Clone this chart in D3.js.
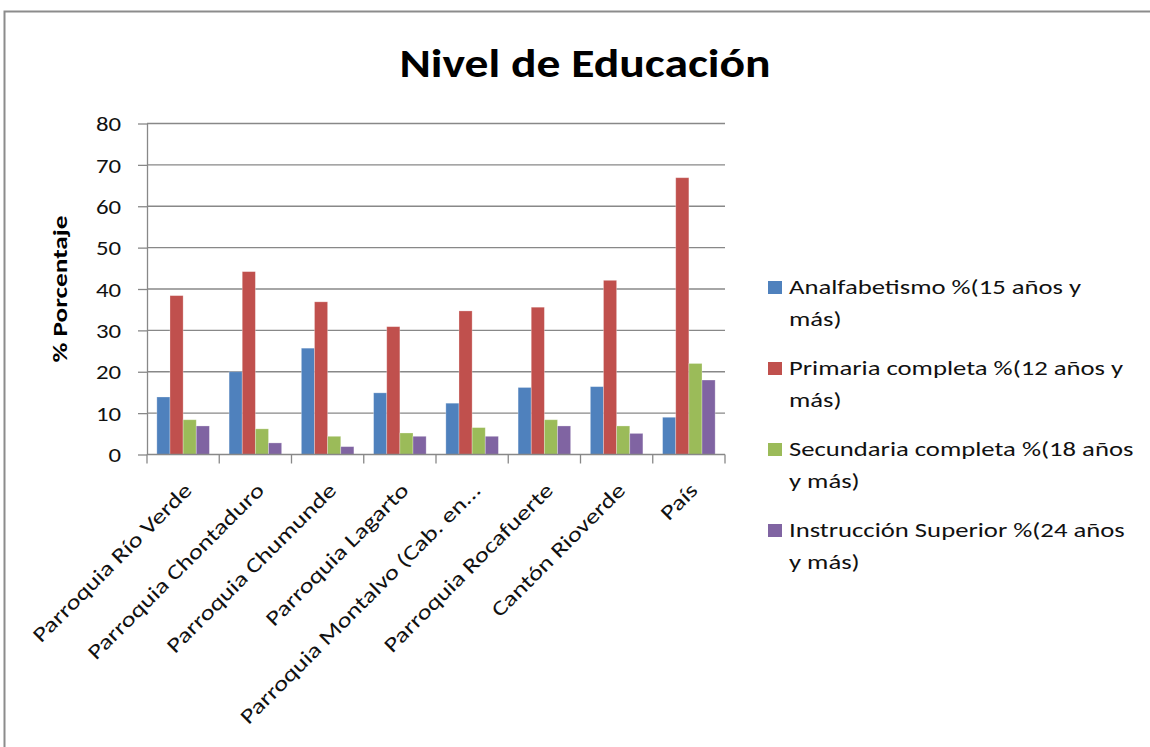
<!doctype html>
<html lang="es">
<head>
<meta charset="utf-8">
<title>Nivel de Educación</title>
<style>
html, body {
	margin: 0;
	padding: 0;
	background: #fff;
}
svg {
	display: block;
	font-family: Calibri, Carlito, Lato, sans-serif;
}
.grid line { stroke: #888; stroke-width: 1.3px; }
.axis path, .axis line { stroke: #888; stroke-width: 1.3px; }
.axis text { fill: #111; }
</style>
</head>
<body>
<div id="chart"></div>
<script src="https://cdnjs.cloudflare.com/ajax/libs/d3/7.8.5/d3.min.js"></script>
<script>
// categories and series
var categories = [
	'Parroquia Río Verde',
	'Parroquia Chontaduro',
	'Parroquia Chumunde',
	'Parroquia Lagarto',
	'Parroquia Montalvo (Cab. en...',
	'Parroquia Rocafuerte',
	'Cantón Rioverde',
	'País'
];
var seriesNames = [
	['Analfabetismo %(15 años y', 'más)'],
	['Primaria completa %(12 años y', 'más)'],
	['Secundaria completa %(18 años', 'y más)'],
	['Instrucción Superior %(24 años', 'y más)']
];
var analfabetismo = [13.9, 20.0, 25.7, 14.9, 12.4, 16.2, 16.4, 9.0];
var primaria = [38.4, 44.2, 36.9, 30.9, 34.7, 35.6, 42.1, 66.9];
var secundaria = [8.4, 6.2, 4.4, 5.2, 6.5, 8.4, 6.9, 22.0];
var superior = [6.9, 2.8, 1.9, 4.4, 4.4, 6.9, 5.1, 18.0];
var yTicks = [0, 10, 20, 30, 40, 50, 60, 70, 80];
var colors = ['#4f81bd', '#c0504d', '#9bbb59', '#8064a2'];

var series = [analfabetismo, primaria, secundaria, superior];

var W = 1150, H = 747;
var plot = { left: 147, right: 725, top: 123.5, bottom: 454.5 };
// the picture's text is wider than Lato at the same height
var SX = 1.27;

var svg = d3.select('#chart').append('svg')
	.attr('width', W)
	.attr('height', H);

// chart frame
svg.append('rect')
	.attr('x', 4.5).attr('y', 11.5)
	.attr('width', W + 20).attr('height', H + 20)
	.attr('fill', '#fff')
	.attr('stroke', '#8c8c8c')
	.attr('stroke-width', 2);

svg.append('text')
	.attr('transform', 'translate(585,77) scale(1.19,1)')
	.attr('text-anchor', 'middle')
	.attr('font-size', 40)
	.attr('font-weight', 'bold')
	.attr('fill', '#000')
	.text('Nivel de Educación');

var y = d3.scaleLinear().domain([0, 80]).range([plot.bottom, plot.top]);
var x = d3.scaleBand().domain(categories)
	.range([plot.left, plot.right])
	.paddingInner(1.5 / 5.5)
	.paddingOuter(0.75 / 5.5);
var xs = d3.scaleBand().domain(d3.range(series.length)).range([0, x.bandwidth()]);

// gridlines
svg.append('g').attr('class', 'grid')
	.selectAll('line').data(yTicks.slice(1)).enter()
	.append('line')
	.attr('x1', plot.left).attr('x2', plot.right)
	.attr('y1', function (d) { return y(d); })
	.attr('y2', function (d) { return y(d); });

// bars
var groups = svg.append('g').selectAll('g').data(series).enter()
	.append('g')
	.attr('fill', function (d, i) { return colors[i]; });
groups.selectAll('rect').data(function (d, i) {
		return d.map(function (v, j) { return { s: i, c: categories[j], v: v }; });
	}).enter()
	.append('rect')
	.attr('x', function (d) { return x(d.c) + xs(d.s); })
	.attr('y', function (d) { return y(d.v); })
	.attr('width', xs.bandwidth())
	.attr('height', function (d) { return y(0) - y(d.v); })
	.attr('stroke', 'rgba(255,255,255,0.35)')
	.attr('stroke-width', 0.8);

// y axis
var yAxis = svg.append('g').attr('class', 'axis')
	.attr('transform', 'translate(' + plot.left + ',0)')
	.call(d3.axisLeft(y).tickValues(yTicks).tickSize(9).tickPadding(17).tickSizeOuter(0));
yAxis.attr('font-family', null).attr('font-size', null);
yAxis.selectAll('text')
	.attr('font-size', 20)
	.attr('x', -26 / 1.24)
	.attr('dy', '0.36em')
	.attr('transform', 'scale(1.24,1)');

// x axis: ticks on category boundaries
var xAxis = svg.append('g').attr('class', 'axis');
xAxis.append('line')
	.attr('x1', plot.left).attr('x2', plot.right)
	.attr('y1', y(0)).attr('y2', y(0));
var step = x.step();
xAxis.selectAll('line.tick').data(d3.range(categories.length + 1)).enter()
	.append('line').attr('class', 'tick')
	.attr('x1', function (d) { return x.range()[0] + d * step; })
	.attr('x2', function (d) { return x.range()[0] + d * step; })
	.attr('y1', y(0)).attr('y2', y(0) + 9);
xAxis.selectAll('text').data(categories).enter()
	.append('text')
	.attr('transform', function (d) {
		return 'translate(' + (x(d) + x.bandwidth() / 2 + 10) + ',' + (y(0) + 37) + ') rotate(-45) scale(' + SX + ',1)';
	})
	.attr('text-anchor', 'end')
	.attr('font-size', 21)
	.attr('fill', '#111')
	.text(function (d) { return d; });

// y axis title
svg.append('text')
	.attr('transform', 'translate(67,' + ((plot.top + plot.bottom) / 2) + ') rotate(-90) scale(1.3,1)')
	.attr('text-anchor', 'middle')
	.attr('font-size', 21)
	.attr('font-weight', 'bold')
	.attr('fill', '#000')
	.text('% Porcentaje');

// legend
var legend = svg.append('g').attr('transform', 'translate(768,294)');
var item = legend.selectAll('g').data(seriesNames).enter()
	.append('g')
	.attr('transform', function (d, i) { return 'translate(0,' + (i * 81) + ')'; });
item.append('rect')
	.attr('x', 0).attr('y', -13)
	.attr('width', 14).attr('height', 13)
	.attr('fill', function (d, i) { return colors[i]; });
item.append('text')
	.attr('transform', 'translate(21,0) scale(' + SX + ',1)')
	.attr('font-size', 21)
	.attr('fill', '#111')
	.selectAll('tspan').data(function (d) { return d; }).enter()
	.append('tspan')
	.attr('x', 0)
	.attr('dy', function (d, i) { return i === 0 ? 0 : 32; })
	.text(function (d) { return d; });
</script>
</body>
</html>
